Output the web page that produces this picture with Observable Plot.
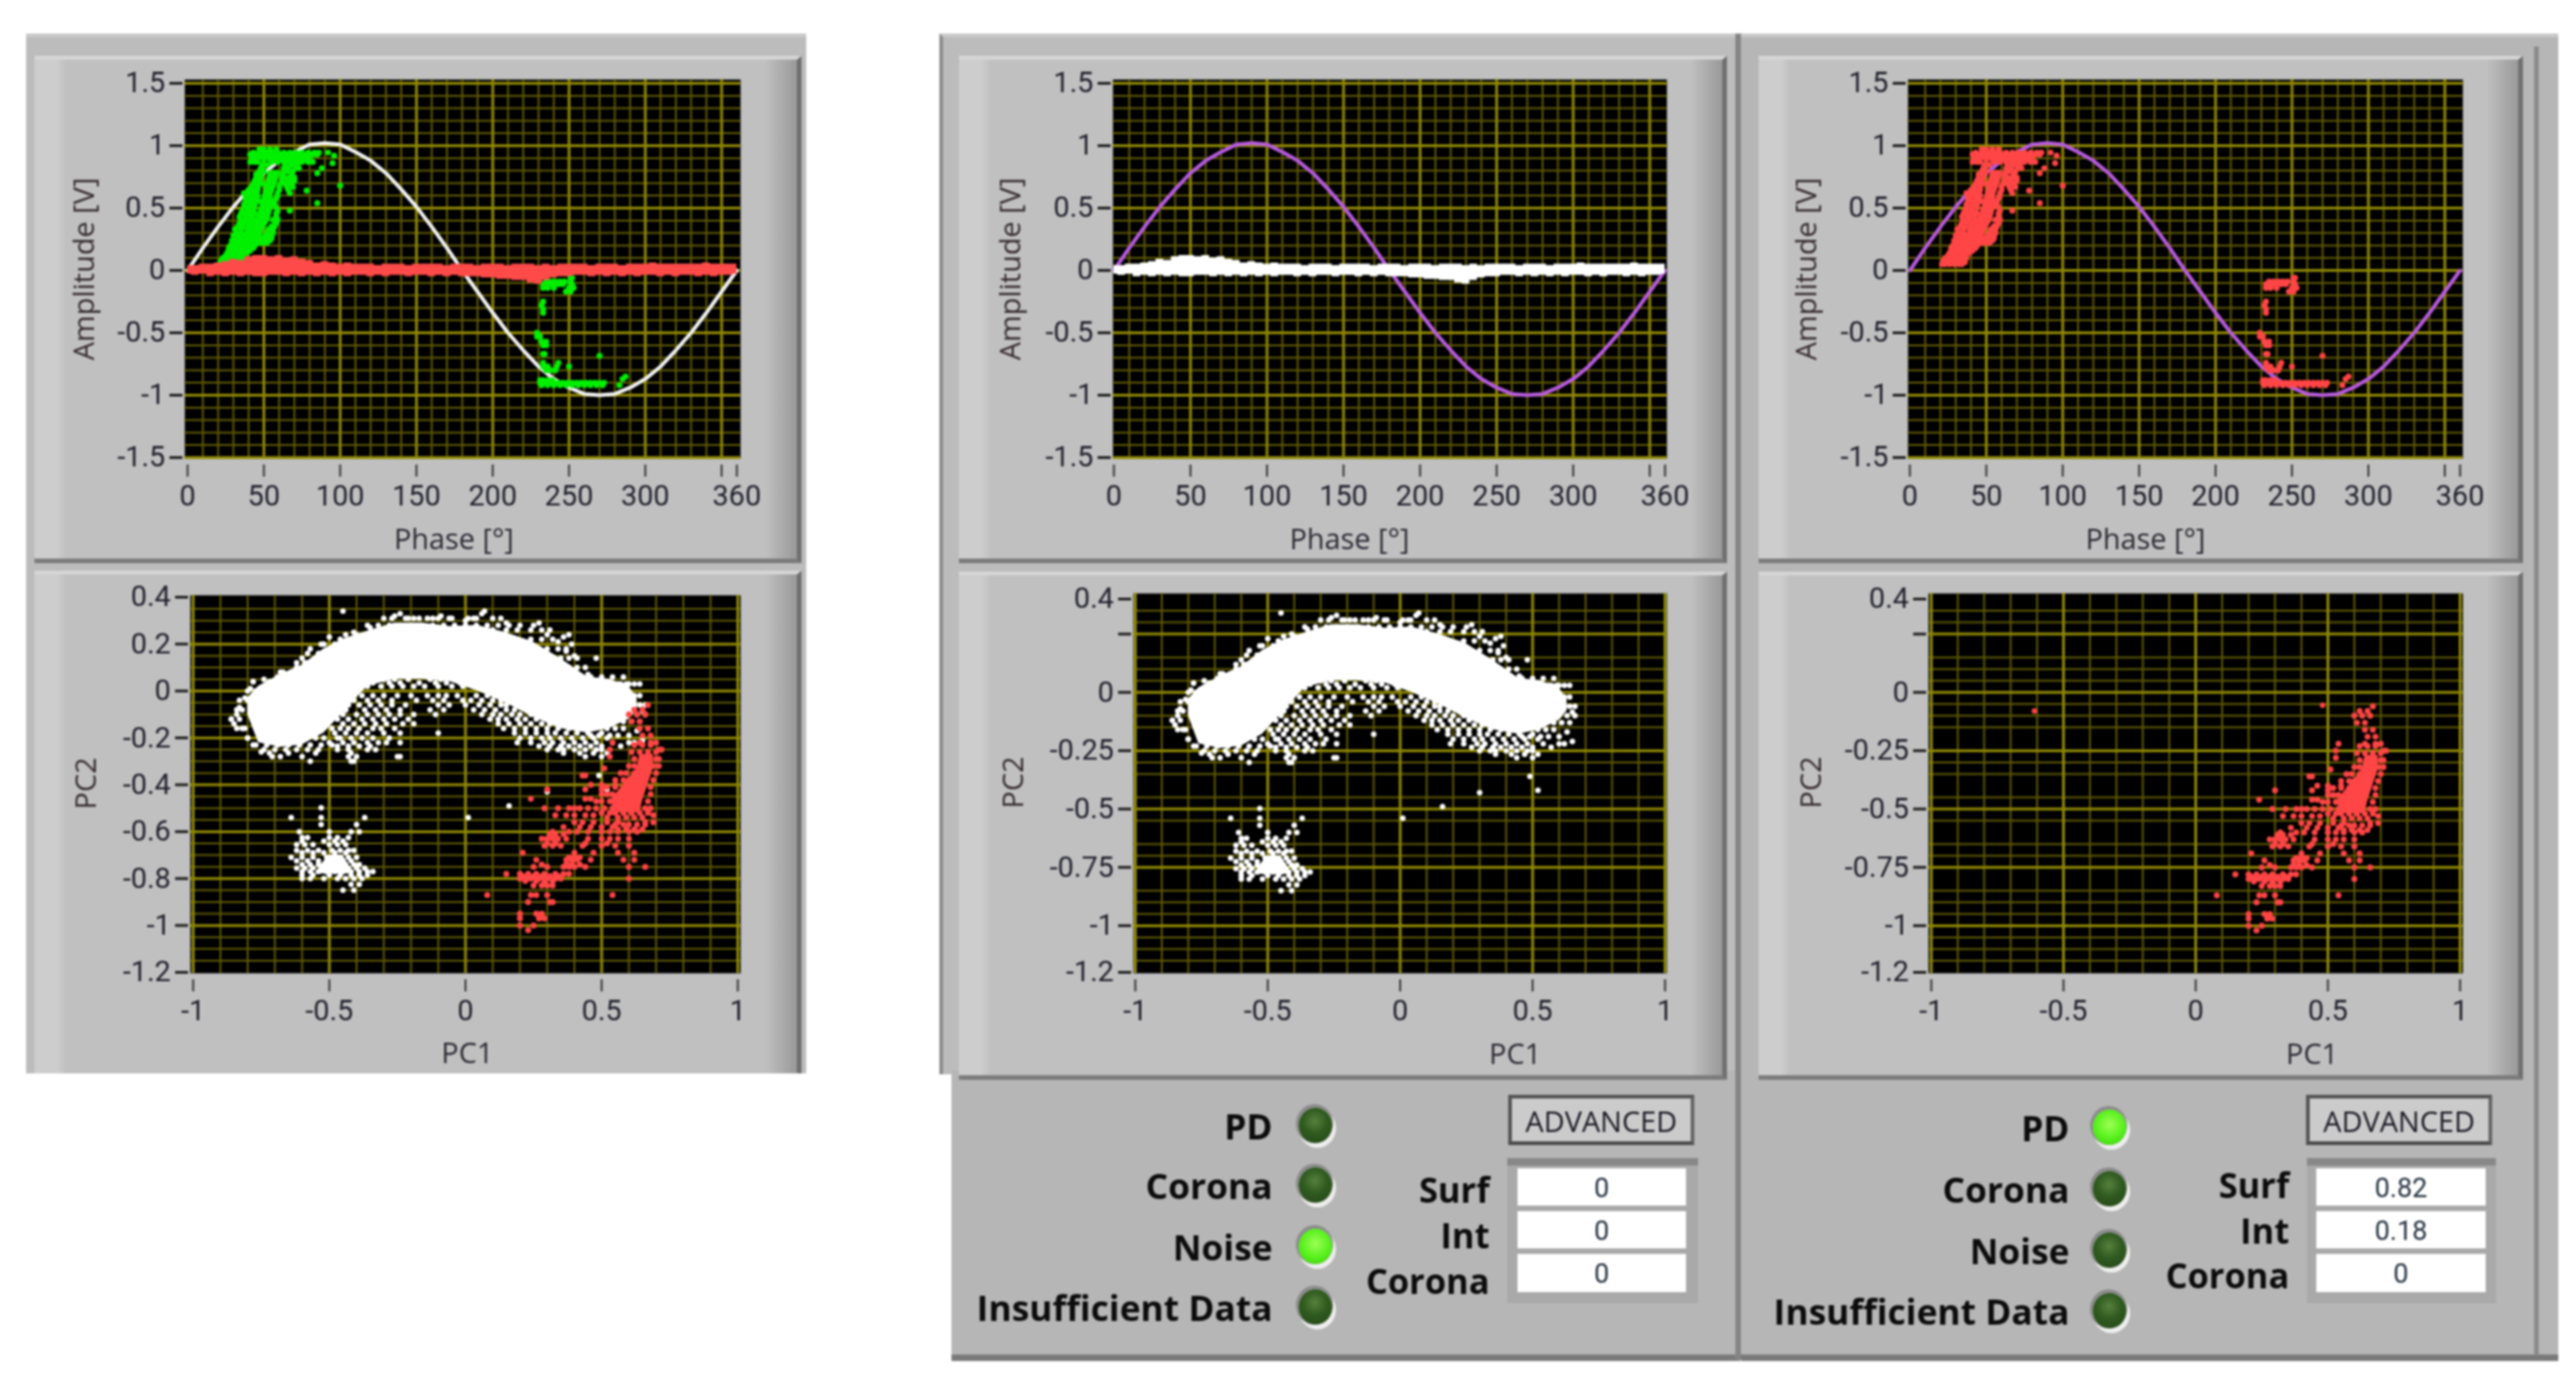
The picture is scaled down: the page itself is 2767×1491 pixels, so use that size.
<!DOCTYPE html>
<html><head><meta charset="utf-8">
<script src="https://cdn.jsdelivr.net/npm/d3@7"></script>
<script src="https://cdn.jsdelivr.net/npm/@observablehq/plot@0.6"></script>
<style>
html,body{margin:0;padding:0;background:#fff}
#page{position:relative;width:2767px;height:1491px;overflow:hidden;background:#fff;filter:blur(1px)}
#page>*{position:absolute}
.lbl{font-family:"Open Sans",sans-serif;font-weight:700;color:#0c0c0c;white-space:nowrap;transform:translate(-100%,-50%)}
.sub{box-sizing:border-box;border-top:4px solid #d6d6d6;border-bottom:5px solid #7c7c7c;border-right:5px solid #6f6f6f;
background:linear-gradient(90deg,#cdcdcd 0,#cdcdcd 24px,#c0c0c0 34px,#c0c0c0 calc(100% - 34px),#999 100%)}
svg{overflow:visible}
</style></head><body><div id="page"></div>
<script>
// ---- sinusoid reference trace, read every 10 degrees
const sinePhase=[0,10,20,30,40,50,60,70,80,90,100,110,120,130,140,150,160,170,180,190,200,210,220,230,240,250,260,270,280,290,300,310,320,330,340,350,360];
const sineAmp=[0,.18,.35,.51,.65,.78,.88,.95,1.01,1.02,1.01,.95,.88,.78,.65,.51,.35,.18,0,-.17,-.34,-.5,-.64,-.77,-.87,-.94,-.99,-1,-.99,-.94,-.87,-.77,-.64,-.5,-.34,-.17,0];
// ---- noise band around zero amplitude
const bandPhase=[0,5,10,15,20,25,30,35,40,45,50,55,60,65,70,75,80,85,90,95,100,105,110,115,120,125,130,135,140,145,150,155,160,165,170,175,180,185,190,195,200,205,210,215,220,225,230,235,240,245,250,255,260,265,270,275,280,285,290,295,300,305,310,315,320,325,330,335,340,345,350,355,360];
const bandTop=[.04,.04,.05,.05,.06,.07,.09,.08,.11,.12,.12,.11,.12,.1,.11,.09,.08,.06,.07,.06,.05,.06,.05,.05,.05,.04,.05,.05,.05,.04,.05,.05,.05,.05,.04,.05,.05,.05,.04,.05,.05,.05,.04,.05,.05,.05,.04,.05,.04,.05,.05,.05,.05,.04,.05,.05,.05,.04,.05,.05,.05,.06,.05,.05,.05,.05,.05,.05,.06,.05,.05,.05,.05];
const bandBottom=[-.03,-.04,-.03,-.05,-.04,-.05,-.04,-.05,-.04,-.05,-.05,-.04,-.04,-.05,-.04,-.05,-.04,-.05,-.04,-.05,-.04,-.05,-.04,-.04,-.05,-.04,-.05,-.04,-.04,-.05,-.04,-.04,-.05,-.04,-.05,-.04,-.05,-.05,-.05,-.06,-.06,-.07,-.07,-.08,-.08,-.1,-.11,-.08,-.06,-.05,-.05,-.04,-.04,-.05,-.04,-.05,-.04,-.05,-.04,-.05,-.04,-.04,-.05,-.04,-.05,-.04,-.04,-.05,-.04,-.05,-.04,-.04,-.03];
// ---- PD cloud, positive half: rows of [amplitude, [phases]]
const pdRowsPos=[
[.05,[21,23,26,29,32,34]],[.065,[24,27,30,33,36]],[.08,[22,25,28,31,34]],[.1,[23,26,30,34,37]],[.12,[25,28,33,36]],[.14,[26,29,32,36,39]],[.16,[27,30,35,38,41]],[.18,[27,31,34,39,43]],[.2,[28,33,37,41,44]],
[.22,[30,34,38,42,46,49,52]],[.24,[29,32,35,39,43,47,50,54]],[.26,[31,34,38,42,45,49,53,55]],[.28,[30,33,37,41,46,51,55]],[.3,[32,35,39,43,47,52,56]],[.33,[31,35,39,44,53,56]],[.355,[33,36,40,45,55,57]],[.38,[34,37,41,47,58]],[.405,[35,39,43,56,59]],[.43,[34,38,42,58]],
[.455,[35,38,41,44,58]],[.48,[36,40,43,59,67]],[.505,[37,40,44,58]],[.53,[37,41,44,57]],[.555,[38,41,44,47,57]],[.58,[38,42,45,58]],[.6,[39,43,46,59]],[.62,[37,41,45,59,67]],[.645,[40,43,46,60,66]],[.67,[42,46,60,65,69]],[.695,[43,46,49,61,64,68]],[.72,[44,47,62,66,70]],
[.745,[45,48,62,64,67,70]],[.77,[45,48,62,68]],[.795,[47,50,63,65,69]],[.82,[48,63,66,71,73]],[.845,[49,52,64,68,72]],[.87,[41,44,46,55,59,63,67,71,75,79,82]],[.89,[42,45,50,54,58,62,66,70,74,78]],[.91,[42,45,48,52,56,60,64,68,72,76,80]],[.93,[41,44,47,50,54,58,62,66,70,74,78,82,85]],
[.945,[43,47,51,55,59,63,67,71,75,79,83,86]],[.97,[47,50,54,58]]];
const pdOutliersPos=[[85,.78],[88,.82],[95,.86],[92,.945],[78,.64],[100,.68],[85,.54],[96,.92]];
// core of the positive cloud: [amplitude, phase low, phase high]
const pdCore=[[.14,30,34],[.2,33,40],[.3,40,49],[.4,44,54],[.5,47,56],[.6,49,56],[.7,51,59],[.8,53,61]];
// ---- PD cloud, negative half
const pdRowsNeg=[
[-.06,[251,252]],[-.09,[235,238,241,244,247,251]],[-.11,[233,236,239,243,246,252]],[-.14,[233,236,240,250,253]],[-.17,[248,251]],
[-.25,[233]],[-.28,[232]],[-.31,[233]],[-.34,[233]],[-.5,[229]],[-.53,[229,231]],[-.57,[232,235]],[-.6,[233,235]],[-.67,[233,234]],
[-.74,[233,243]],[-.77,[233,236,242,250]],[-.8,[235,238,241]],[-.88,[231,233,236,239]],
[-.9,[231,234,237,240,243,246,249,252,255,258,261,264,267,270,273]],[-.92,[232,236,240,244,248,252,256,260,264,268,272]]];
const pdOutliersNeg=[[270,-.685],[287,-.85],[285,-.87],[283,-.92]];
// ---- PCA: arch of noise, envelope of its solid part [pc1, upper pc2, lower pc2]
const archX=[-.8,-.76,-.68,-.6,-.52,-.44,-.36,-.26,-.16,-.057,.044,.145,.246,.347,.448,.53,.6,.63];
const archTop=[-.03,.02,.07,.11,.18,.225,.255,.29,.29,.275,.28,.25,.21,.14,.06,.05,.02,-.03];
const archBottom=[-.1,-.22,-.24,-.23,-.18,-.08,.02,.05,.05,.04,0,-.05,-.11,-.16,-.18,-.16,-.12,-.08];
// speckle below the arch and fraying along its edges: rows of [pc2, [pc1s]]
const archRows=[
[.05,[-.38,-.33,-.3,-.26,-.21,-.13,-.09,-.04,.01,.05]],[.035,[-.37,-.34,-.28,-.24,-.17,-.11,-.07,-.02,.02,.06,.09]],[.02,[-.4,-.36,-.31,-.27,-.23,-.19,-.15,-.1,-.05,-.01,.03,.07]],
[-.02,[-.42,-.38,-.34,-.3,-.25,-.2,-.14,-.1,-.07,-.03,.04,.08,.11]],[-.04,[-.41,-.36,-.32,-.27,-.18,-.12,-.08,-.01,.02,.06,.1,.13]],[-.06,[-.43,-.39,-.35,-.31,-.27,-.22,-.1,-.06,0,.05,.09,.13,.15]],[-.08,[-.44,-.37,-.33,-.29,-.24,-.13,-.08,.03,.07,.11,.15,.18]],
[-.1,[-.45,-.4,-.36,-.32,-.28,-.24,-.19,-.11,.06,.1,.13,.17,.2,.24]],[-.12,[-.43,-.38,-.34,-.3,-.26,-.21,.09,.12,.15,.19,.22,.26]],[-.14,[-.45,-.41,-.37,-.33,-.29,-.23,-.19,.12,.16,.2,.24,.28,.31]],[-.16,[-.43,-.39,-.34,-.31,-.26,.14,.18,.22,.26,.3,.34,.38]],
[-.18,[-.48,-.44,-.4,-.36,-.3,-.24,-.1,.18,.22,.26,.3,.33,.37,.41,.45,.5]],[-.2,[-.46,-.42,-.38,-.34,-.28,.2,.24,.28,.31,.35,.39,.43,.47,.52]],[-.22,[-.5,-.45,-.41,-.36,-.32,-.29,-.24,.19,.24,.29,.32,.36,.4,.44,.48,.54,.6,.62]],[-.235,[-.47,-.43,-.39,-.35,.27,.31,.35,.38,.42,.46,.5,.57]],
[-.25,[-.74,-.7,-.66,-.62,-.58,-.54,-.47,-.43,-.36,-.33,.3,.34,.36,.4,.44,.48,.5]],[-.265,[-.72,-.65,-.55,-.42,.36,.42,.47,.52]],[-.28,[-.71,-.68,-.6,-.43,-.4,-.25,.44,.5]],[-.3,[-.57,-.42,-.41]],
[-.23,[-.77,-.73,-.69,-.65,-.61,-.57,-.53,-.49]],[-.2,[-.8,-.55,-.52,-.47]],[-.16,[-.84,-.81,-.53,-.49,-.46]],[-.12,[-.86,-.83,-.5,-.47]],[-.08,[-.84,-.82,-.47,-.44]],[-.04,[-.83,-.8,-.47,-.44]],[0,[-.8,-.77,-.44,-.41]],[.04,[-.78,-.72,-.4,-.36]],
[.08,[-.68,-.64,-.38,-.34,-.3]],[.12,[-.62,-.58,-.55]],[.16,[-.58,-.54,-.5]],[.2,[-.52,-.48,-.44,-.4]],[.24,[-.44,-.4,-.36,-.32]],[.28,[-.36,-.32,-.28,-.24,-.2,-.16,-.12,-.08,-.04,0,.04,.08,.12,.16]],[.31,[-.3,-.27,-.22,-.19,-.14,-.1,-.06,.01,.03,.1,.13]],
[.26,[.1,.15,.19,.24,.28,.31]],[.22,[.24,.28,.32]],[.18,[.3,.34,.37]],[.14,[.35,.38,.41]],[.1,[.38,.41,.44]],[.06,[.42,.46,.5,.54,.58]],[.03,[.46,.52,.56,.59,.62]],[-.02,[.6,.62,.64]],[-.06,[.62,.64,.66]],[-.1,[.6,.63,.66]],[-.13,[.55,.58,.61,.64]],[-.16,[.52,.55,.58]],[-.19,[.46,.49,.53,.56,.6]]];
// fringe of the arch and lone points
const archFringe=[[-.26,.32],[-.24,.33],[-.21,.31],[-.17,.31],[-.12,.31],[-.09,.32],[-.05,.31],[0,.3],[.04,.31],[.06,.33],[.07,.34],[.15,.29],[.2,.28],[.25,.28],[.27,.29],[.3,.24],[.34,.21],[.36,.23],[.38,.24],[.39,.2],[.37,.17],[.4,.15],[.45,.07],[.44,.05],[.57,.03],[.6,.03],[.64,.03],[-.35,.27],[-.41,.25],[-.46,.22],[-.5,.23],[-.53,.2],[-.57,.18],[-.6,.14],[-.59,.12],[-.62,.1],[-.67,.08],[-.69,.06],[-.74,.05],[-.78,.04],[-.79,.01],[-.81,-.03],[-.83,-.07],[-.84,-.1],[-.86,-.12],[-.85,-.14],[-.82,-.16],[-.8,-.2],[-.78,-.23],[-.75,-.26],[.65,-.085],[.65,-.21],[.63,-.17]];
const loneWhite=[[-.45,.34],[.48,.14],[-.24,-.28],[.01,-.54],[.16,-.49],[.3,-.43],[.49,-.36],[.52,-.42]];
// second noise cluster
const blobRows=[
[-.498,[-.53]],[-.54,[-.64,-.53,-.37]],[-.57,[-.53,-.4]],[-.6,[-.61,-.5,-.42,-.39]],[-.625,[-.6,-.58,-.5,-.47,-.43]],[-.64,[-.6,-.52,-.48,-.45]],[-.655,[-.62,-.59,-.56,-.5,-.47,-.44]],
[-.68,[-.62,-.58,-.54,-.49,-.46,-.43,-.41]],[-.69,[-.6,-.56,-.52,-.48,-.44]],[-.71,[-.64,-.6,-.56,-.51,-.46,-.43,-.4]],[-.725,[-.62,-.58,-.54,-.5,-.45,-.42]],[-.74,[-.6,-.57,-.54,-.51,-.47,-.44,-.41,-.39]],[-.755,[-.62,-.59,-.56,-.52,-.46,-.43,-.4,-.37]],
[-.77,[-.6,-.57,-.54,-.51,-.48,-.45,-.42,-.39,-.36,-.34]],[-.785,[-.6,-.56,-.5,-.46,-.42,-.39,-.36]],[-.8,[-.6,-.57,-.52,-.47,-.44,-.41,-.38]],[-.825,[-.42,-.39]],[-.85,[-.45,-.41]]];
const blobCore=[[-.7,-.5,-.45],[-.74,-.53,-.43],[-.78,-.55,-.41]];
// PD cluster in PCA space
const redCore=[[-.27,.64,.69],[-.33,.63,.69],[-.4,.58,.67],[-.47,.53,.65],[-.52,.56,.64]];
const redRows=[
[-.08,[.65,.62]],[-.06,[.67]],[-.1,[.6,.63,.66]],[-.13,[.61,.64]],[-.16,[.64,.67]],[-.19,[.65,.68]],[-.22,[.54,.64,.68,.7]],[-.23,[.62,.65,.68]],[-.25,[.53,.71,.72]],[-.26,[.61,.64,.67,.7]],[-.28,[.53]],[-.29,[.62,.66,.7,.71]],[-.32,[.6,.62,.65,.69,.71]],[-.33,[.51]],
[-.35,[.57,.59,.62,.66,.7]],[-.36,[.44,.43]],[-.38,[.55,.58,.6,.64,.69]],[-.4,[.46,.5,.55]],[-.41,[.52,.55,.58,.62,.68]],[-.42,[.3,.44,.5]],[-.44,[.5,.52,.54,.58,.64,.68]],[-.46,[.24,.44,.46]],[-.47,[.48,.5,.53,.57,.62,.67]],[-.5,[.29,.34,.38,.4,.42,.45,.48,.51,.54,.59,.63,.66,.68]],[-.52,[.5,.53,.55,.58,.61,.64,.67]],[-.53,[.33,.37,.4,.44,.47,.69]],[-.54,[.52,.56,.59,.62,.65]],
[-.56,[.4,.43,.47,.52,.56,.66,.69]],[-.57,[.55,.58,.6,.63,.66]],[-.58,[.36,.42,.46,.5,.54]],[-.59,[.56,.59,.62,.65]],[-.6,[.32,.38,.41,.45,.5,.53,.56,.6,.63]],[-.61,[.31,.33,.36]],[-.63,[.28,.3,.32,.34,.37,.45,.5,.53,.56,.6]],[-.65,[.3,.33,.44,.52]],[-.66,[.29,.32,.35,.43,.5,.55,.6]],
[-.69,[.21,.4,.47,.56,.62]],[-.71,[.38,.4,.42]],[-.72,[.26,.37,.39,.41,.46,.58,.62]],[-.74,[.28,.37,.39,.42]],[-.75,[.25,.3,.36,.38,.4,.44,.6,.66]],[-.78,[.15,.2,.23,.26,.29,.33,.36,.38]],[-.79,[.21,.25,.28,.31,.34]],[-.8,[.2,.22,.24,.27,.3,.33,.35,.6]],[-.81,[.22,.26,.29,.32]],
[-.83,[.25,.28,.3,.32]],[-.87,[.08,.24,.26,.3,.54]],[-.9,[.23,.31,.32]],[-.95,[.2,.26,.28]],[-.97,[.2,.27,.29]],[-1,[.2,.25]],[-1.02,[.23]]];
const redLone=[[-.61,-.08],[.48,-.055]];
// ---- axes and grids
const phaseTicks=[0,50,100,150,200,250,300,350,360];
const phaseMajor=[50,100,150,200,250,300,350];
const phaseMinor=[10,20,30,40,60,70,80,90,110,120,130,140,160,170,180,190,210,220,230,240,260,270,280,290,310,320,330,340];
const ampTicks=[1.5,1,.5,0,-.5,-1,-1.5];
const ampMinor=[1.4,1.3,1.2,1.1,.9,.8,.7,.6,.4,.3,.2,.1,-.1,-.2,-.3,-.4,-.6,-.7,-.8,-.9,-1.1,-1.2,-1.3,-1.4];
const pc1Ticks=[-1,-.5,0,.5,1];
const pc1Minor=[-.9,-.8,-.7,-.6,-.4,-.3,-.2,-.1,.1,.2,.3,.4,.6,.7,.8,.9];
const pc2TicksA=[.4,.2,0,-.2,-.4,-.6,-.8,-1,-1.2];
const pc2TicksB=[.4,.25,0,-.25,-.5,-.75,-1,-1.2];
const pc2MajorA=[.2,0,-.2,-.4,-.6,-.8,-1];
const pc2MajorB=[.25,0,-.25,-.5,-.75,-1];
const pc2Minor=[.35,.3,.25,.15,.1,.05,-.05,-.1,-.15,-.25,-.3,-.35,-.45,-.5,-.55,-.65,-.7,-.75,-.85,-.9,-.95,-1.05,-1.1,-1.15];
// ---- indicator panels
const ledNames=["PD","Corona","Noise","Insufficient Data"];
const ledStateMid=[0,0,1,0];
const ledStateRight=[1,0,0,0];
const scoreNames=["Surf","Int","Corona"];
const scoresMid=["0","0","0"];
const scoresRight=["0.82","0.18","0"];

const rows=r=>r.flatMap(([v,xs])=>xs.map(x=>[x,v]));
const pdCloud=[...rows(pdRowsPos),...pdOutliersPos,...rows(pdRowsNeg),...pdOutliersNeg];
const archCloud=[...rows(archRows),...archFringe,...loneWhite,...rows(blobRows)];
const redCloud=rows(redRows);
const bandTable=bandPhase.map((p,i)=>({p,t:bandTop[i],b:bandBottom[i]}));
const sineTable=sinePhase.map((p,i)=>({p,a:sineAmp[i]}));
const archTable=archX.map((x,i)=>({x,t:archTop[i],b:archBottom[i]}));
const TICKFONT='"Liberation Sans Narrow","Roboto",sans-serif', LABELFONT='"Open Sans",sans-serif';
const page=document.getElementById("page");
function box(x,y,w,h,css,cls){const d=document.createElement("div");d.style.cssText=`left:${x}px;top:${y}px;width:${w}px;height:${h}px;${css||""}`;if(cls)d.className=cls;page.appendChild(d);return d;}
function label(t,x,y,size,extra){const d=document.createElement("div");d.className="lbl";d.textContent=t;d.style.cssText=`left:${x}px;top:${y}px;font-size:${size}px;${extra||""}`;page.appendChild(d);return d;}

function chart(c){
  const [x0,x1,y0,y1]=c.rect; const ml=c.ml,mr=40,mt=16,mb=c.mb;
  const [xa,pa,xb,pb]=c.xmap,[ya,qa,yb,qb]=c.ymap;
  const ix=p=>xa+(p-pa)*(xb-xa)/(pb-pa), iy=q=>ya+(q-qa)*(yb-ya)/(qb-qa);
  const fmtX=c.xFmt||String, fmtY=c.yFmt||String;
  const marks=[
    Plot.frame({fill:"#000",stroke:null}),
    Plot.ruleX(c.xMinor,{stroke:"#5e5a00",strokeWidth:2}),
    Plot.ruleY(c.yMinor,{stroke:"#5e5a00",strokeWidth:2}),
    Plot.ruleX(c.xMajor,{stroke:"#8f8800",strokeWidth:3}),
    Plot.ruleY(c.yMajor,{stroke:"#8f8800",strokeWidth:3}),
    ...c.marks,
    Plot.axisX({ticks:c.xTicks,tickFormat:fmtX,tickSize:13,tickPadding:8,insetBottom:-7,fontSize:31,fontFamily:TICKFONT,fill:"#22222e",stroke:"#333",strokeWidth:2,label:null}),
    Plot.axisY({ticks:c.yTicks,tickFormat:fmtY,tickSize:14,tickPadding:5,insetLeft:-2,fontSize:31,fontFamily:TICKFONT,fill:"#22222e",stroke:"#222",strokeWidth:3,label:null}),
    Plot.text([c.xLabel],{frameAnchor:"bottom",text:d=>d,dx:c.xLabelDx,dy:c.xLabelDy,fontSize:31,fontFamily:LABELFONT,fill:"#2d2a34"}),
    Plot.text([c.yLabel],{frameAnchor:"left",textAnchor:"middle",text:d=>d,rotate:-90,dx:c.yLabelDx,dy:c.yLabelDy,fontSize:31,fontFamily:LABELFONT,fill:"#352b2e"})
  ];
  const svg=Plot.plot({width:x1-x0+ml+mr,height:y1-y0+mt+mb,marginLeft:ml,marginRight:mr,marginTop:mt,marginBottom:mb,
    x:{domain:[ix(x0),ix(x1)]},y:{domain:[iy(y1),iy(y0)]},style:{background:"transparent",overflow:"visible"},marks});
  svg.style.position="absolute";svg.style.left=(x0-ml)+"px";svg.style.top=(y0-mt)+"px";svg.style.maxWidth="none";
  page.appendChild(svg);
}
const dots=(arr,fill,r)=>Plot.dot(arr,{x:d=>d[0],y:d=>d[1],r,fill,stroke:null});
function prpdMarks(lineCol,noiseCol,pdCol,extra){
  return [
    Plot.line(sineTable,{x:"p",y:"a",stroke:lineCol,strokeWidth:4}),
    ...(noiseCol?[Plot.areaY(bandTable,{x:"p",y1:"b",y2:"t",fill:noiseCol,curve:"step"})]:[]),
    ...(pdCol?[Plot.areaX(pdCore,{y:d=>d[0],x1:d=>d[1],x2:d=>d[2],fill:pdCol}),dots(pdCloud,pdCol,3.2)]:[]),
    ...(extra||[])
  ];
}
const whiteMarks=[
  Plot.areaY(archTable,{x:"x",y1:"b",y2:"t",fill:"#fff"}),
  Plot.areaX(blobCore,{y:d=>d[0],x1:d=>d[1],x2:d=>d[2],fill:"#fff"}),
  dots(archCloud,"#fff",3)];
const redMarks=[
  Plot.areaX(redCore,{y:d=>d[0],x1:d=>d[1],x2:d=>d[2],fill:"#ff4545"}),
  dots(redCloud,"#ff4545",3.2)];
const pcCommon={xTicks:pc1Ticks,xMajor:pc1Ticks,xMinor:pc1Minor,yMinor:pc2Minor,xLabel:"PC1",yLabel:"PC2",mb:110,ml:150};
const prpdCommon={xTicks:phaseTicks,xMajor:phaseMajor,xMinor:phaseMinor,yTicks:ampTicks,yMajor:ampTicks,yMinor:ampMinor,xLabel:"Phase [°]",yLabel:"Amplitude [V]",mb:110,ml:150,xFmt:d=>d===350?"":String(d)};
const fmtB=d=>d===.25?"":String(d);

// ---- left column chrome
box(28,36,838,1117,"background:#bcbcbc;border-top:4px solid #c9c9c9;box-sizing:border-box");
box(37,60,824,545,"","sub");box(37,613,824,540,"border-bottom:none","sub");
// ---- middle column chrome
box(1009,36,860,1118,"background:#bcbcbc;border-top:4px solid #c9c9c9;border-left:4px solid #8b8b8b;box-sizing:border-box");
box(1022,1150,847,312,"background:#b6b6b6;border-bottom:7px solid #7a7a7a;box-sizing:border-box");
box(1030,60,825,545,"","sub");box(1030,614,825,546,"","sub");
box(1864,36,6,1425,"background:#858585");
// ---- right column chrome
box(1870,36,878,1426,"background:#b6b6b6;border-top:4px solid #c9c9c9;border-bottom:7px solid #7a7a7a;box-sizing:border-box");
box(2722,50,5,1406,"background:#8a8a8a");
box(1889,60,821,545,"","sub");box(1889,614,821,546,"","sub");

chart({...prpdCommon,rect:[198,795,85,492],xmap:[0,201,360,791],ymap:[1.5,89,-1.5,491],
  marks:prpdMarks("#f4f4f4",null,"#00f000",[Plot.areaY(bandTable,{x:"p",y1:"b",y2:"t",fill:"#ff4a4a",curve:"step"})]),
  xLabelDx:-9.5,xLabelDy:97,yLabelDx:-107,yLabelDy:0});
chart({...pcCommon,rect:[204,795,639,1045],xmap:[-1,207,1,792],ymap:[.4,641,-1.2,1044],yTicks:pc2TicksA,yMajor:pc2MajorA,
  marks:[...whiteMarks,...redMarks],xLabelDx:2,xLabelDy:96,yLabelDx:-111,yLabelDy:-1});
chart({...prpdCommon,rect:[1195,1790,85,492],xmap:[0,1196,360,1788],ymap:[1.5,89,-1.5,491],
  marks:prpdMarks("#b85be0","#ffffff",null),
  xLabelDx:-43.5,xLabelDy:97,yLabelDx:-109,yLabelDy:0});
chart({...pcCommon,rect:[1217,1790,637,1045],xmap:[-1,1219,1,1788],ymap:[.4,643,-1.2,1044],yTicks:pc2TicksB,yMajor:pc2MajorB,yFmt:fmtB,
  marks:whiteMarks,xLabelDx:123.5,xLabelDy:97,yLabelDx:-128,yLabelDy:-1});
chart({...prpdCommon,rect:[2049,2645,85,492],xmap:[0,2051,360,2642],ymap:[1.5,89,-1.5,491],
  marks:prpdMarks("#b85be0",null,"#ff4545"),
  xLabelDx:-43,xLabelDy:97,yLabelDx:-108,yLabelDy:0});
chart({...pcCommon,rect:[2071,2645,637,1045],xmap:[-1,2074,1,2642],ymap:[.4,643,-1.2,1044],yTicks:pc2TicksB,yMajor:pc2MajorB,yFmt:fmtB,
  marks:[...redMarks,dots(redLone,"#ff4545",3)],xLabelDx:125,xLabelDy:97,yLabelDx:-125,yLabelDy:-1});

// ---- indicators
function led(cx,cy,on){
  const bg=on?"radial-gradient(circle at 50% 42%,#9dff55 0,#55f01a 55%,#3fc414 100%)":"radial-gradient(circle at 48% 38%,#55803d 0,#2f5a1f 45%,#234516 100%)";
  box(cx-18,cy-19,36,38,`border-radius:50%;background:${bg};box-shadow:-1px -2px 0 2px #8c8c8c,2px 3px 0 2px #eee`);
}
function indicators(o){
  ledNames.forEach((n,i)=>{label(n,o.labelRight,o.ledY[i],38);led(o.ledX,o.ledY[i],o.state[i]);});
  box(o.btnX,1176,o.btnW,54,"box-sizing:border-box;background:#cbcbcb;border:4px solid #555;border-right-color:#666;border-bottom-color:#4a4a4a");
  label("ADVANCED",o.btnX+o.btnW/2,1204,31,"font-weight:400;transform:translate(-50%,-50%);color:#1a1a24");
  box(o.frameX,1244,o.frameW,156,"background:#a9a9a9;border-top:8px solid #888;box-sizing:border-box");
  const ys=[[1255,40],[1301,40],[1347,41]];
  scoreNames.forEach((n,i)=>{
    box(o.cellX,ys[i][0],o.cellW,ys[i][1],"background:#fff");
    label(o.vals[i],o.cellX+o.cellW/2,ys[i][0]+21,29,"font-family:Roboto,sans-serif;font-weight:400;transform:translate(-50%,-50%);color:#26313f");
    label(n,o.scoreRight,o.scoreY[i],37);
  });
}
indicators({labelRight:1367,ledX:1413,ledY:[1209,1273,1339,1404],state:ledStateMid,btnX:1620,btnW:200,frameX:1619,frameW:205,cellX:1630,cellW:181,vals:scoresMid,scoreRight:1600,scoreY:[1277,1326,1375]});
indicators({labelRight:2223,ledX:2266,ledY:[1211,1277,1343,1408],state:ledStateRight,btnX:2477,btnW:200,frameX:2478,frameW:203,cellX:2488,cellW:182,vals:scoresRight,scoreRight:2459,scoreY:[1272,1321,1369]});
</script></body></html>
